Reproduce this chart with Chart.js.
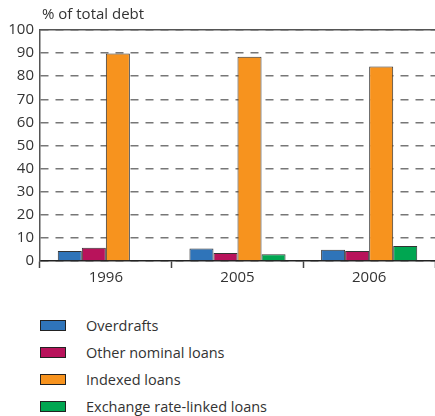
<!DOCTYPE html>
<html>
<head>
<meta charset="utf-8">
<script src="https://cdn.jsdelivr.net/npm/chart.js@4.4.0/dist/chart.umd.min.js"></script>
<style>
  body { margin: 0; background: #fff; font-family: "Open Sans", sans-serif; }
  #wrap { position: relative; width: 435px; height: 416px; }
  #chartBox { position: absolute; left: 0; top: 0; width: 435px; height: 290px; }
  #legend { position: absolute; left: 40px; top: 312px; }
  .item { height: 27px; display: flex; align-items: center; font-size: 14.5px; color: #333; }
  .swatch { width: 24px; height: 9px; border: 1px solid #222; margin-right: 20px; }
</style>
</head>
<body>
<div id="wrap">
  <div id="chartBox"><canvas id="myChart"></canvas></div>
  <div id="legend"></div>
</div>
<script>
const years = ["1996", "2005", "2006"];
const overdrafts = [4.3, 5.4, 4.9];
const otherNominal = [5.7, 3.5, 4.3];
const indexed = [89.8, 88.4, 84.2];
const exchangeLinked = [0.3, 2.9, 6.5];
const yTicks = [0, 10, 20, 30, 40, 50, 60, 70, 80, 90, 100];

const names = ["Overdrafts", "Other nominal loans", "Indexed loans", "Exchange rate-linked loans"];
const colors = ["#2f74b9", "#b8135b", "#f7931e", "#00a651"];
const series = [overdrafts, otherNominal, indexed, exchangeLinked];

// title above the plot, drawn at the chart area's left edge
const titlePlugin = {
  id: "unitTitle",
  afterDraw(chart) {
    const ctx = chart.ctx;
    ctx.save();
    ctx.font = "15px 'Open Sans'";
    ctx.fillStyle = "#333";
    ctx.textBaseline = "middle";
    ctx.fillText("% of total debt", chart.chartArea.left + 2, 15);
    ctx.restore();
  }
};

const ctx = document.getElementById("myChart").getContext("2d");
const myChart = new Chart(ctx, {
  type: "bar",
  data: {
    labels: years,
    datasets: series.map((d, i) => ({
      label: names[i],
      data: d,
      backgroundColor: colors[i],
      borderColor: "#333",
      borderWidth: 1,
      borderSkipped: "bottom",
      categoryPercentage: 0.73,
      barPercentage: 1,
    })),
  },
  options: {
    responsive: true,
    maintainAspectRatio: false,
    animation: false,
    layout: { padding: { top: 30, right: 0, left: 0, bottom: 0 } },
    plugins: {
      legend: { display: false },
      tooltip: { enabled: false },
    },
    scales: {
      x: {
        grid: { offset: true, drawOnChartArea: false, tickLength: 7, tickColor: "#444", tickWidth: 1.5 },
        border: { color: "#222", width: 1.5 },
        ticks: { color: "#333", font: { family: "Open Sans", size: 15 }, padding: 1 },
        afterFit: (s) => { s.height = 29; },
      },
      xTop: {
        type: "category",
        position: "top",
        labels: years,
        grid: { display: false },
        ticks: { display: false },
        border: { color: "#555", width: 1.5 },
        afterFit: (s) => { s.height = 0; },
      },
      y: {
        min: 0,
        max: 100,
        afterBuildTicks: (s) => { s.ticks = yTicks.map((v) => ({ value: v })); },
        grid: { color: "#777", lineWidth: 1.5, drawTicks: false },
        border: { color: "#555", width: 1.5, dash: [8, 7] },
        ticks: { color: "#333", font: { family: "Open Sans", size: 15 }, padding: 6 },
        afterFit: (s) => { s.width = 40; },
      },
    },
  },
  plugins: [titlePlugin],
});

// legend below the chart, one entry per row
const legend = document.getElementById("legend");
myChart.data.datasets.forEach((ds) => {
  const row = document.createElement("div");
  row.className = "item";
  row.innerHTML = `<span class="swatch" style="background:${ds.backgroundColor}"></span>${ds.label}`;
  legend.appendChild(row);
});
</script>
</body>
</html>
